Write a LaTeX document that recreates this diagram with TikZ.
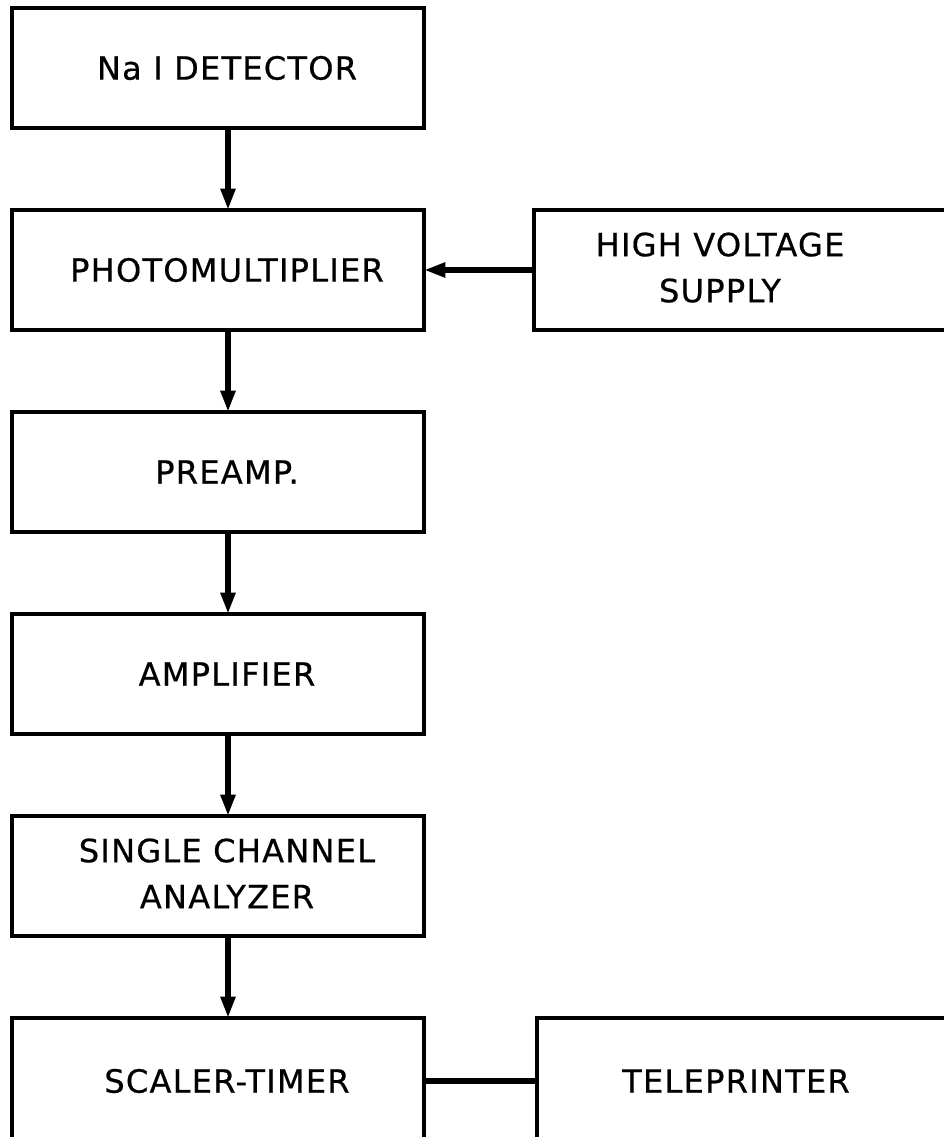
\documentclass[tikz,border=0pt]{standalone}
\usepackage{fontspec}
\setmainfont{DejaVu Sans}[LetterSpace=4,FakeBold=0.6]
\usetikzlibrary{arrows.meta, positioning}

\begin{document}
\begin{tikzpicture}[
    node distance=61.5pt and 82.5pt,
    >={Triangle[length=16pt,width=10.5pt]},
    font=\fontsize{24pt}{34.5pt}\selectfont,
    base/.style={
      draw, rectangle, line width=2.6pt, outer sep=0pt,
      minimum height=90pt, inner sep=0pt
    },
    block/.style={
      base, minimum width=309pt,
      execute at begin node={\hspace*{13.5pt}}
    },
    openblock/.style={
      base, minimum width=318pt
    },
    arrow/.style={->, line width=4pt},
    link/.style={line width=4pt}
  ]
    \useasboundingbox (0,0) rectangle (707.25pt,-852.75pt);

    % --- Detector chain ---
    \node[block, anchor=north west] (det) at (9pt,-6pt) {Na I DETECTOR};
    \node[block, below=of det] (pm) {PHOTOMULTIPLIER};
    \node[block, below=of pm] (pre) {PREAMP.};
    \node[block, below=of pre] (amp) {AMPLIFIER};
    \node[block, below=of amp] (sca)
    {\begin{tabular}{@{}c@{}}SINGLE CHANNEL\\ANALYZER\end{tabular}};
    \node[block, below=of sca, minimum height=94.5pt] (st) {SCALER-TIMER};

    % --- Side units ---
    \node[openblock, right=of pm] (hv)
    {\begin{tabular}{@{}c@{}}HIGH VOLTAGE\\SUPPLY\end{tabular}\hspace*{39pt}};
    \node[openblock, right=84.75pt of st, minimum height=94.5pt] (tp)
    {TELEPRINTER\hspace*{19.5pt}};

    % --- Signal path ---
    \draw[arrow] ([xshift=7.5pt]det.south) -- ([xshift=7.5pt]pm.north);
    \draw[arrow] ([xshift=7.5pt]pm.south) -- ([xshift=7.5pt]pre.north);
    \draw[arrow] ([xshift=7.5pt]pre.south) -- ([xshift=7.5pt]amp.north);
    \draw[arrow] ([xshift=7.5pt]amp.south) -- ([xshift=7.5pt]sca.north);
    \draw[arrow] ([xshift=7.5pt]sca.south) -- ([xshift=7.5pt]st.north);

    % High voltage feeds the tube
    \draw[arrow] (hv) -- (pm);

    % Scaler to printer
    \draw[link] (st) -- (tp);

  \end{tikzpicture}
\end{document}
